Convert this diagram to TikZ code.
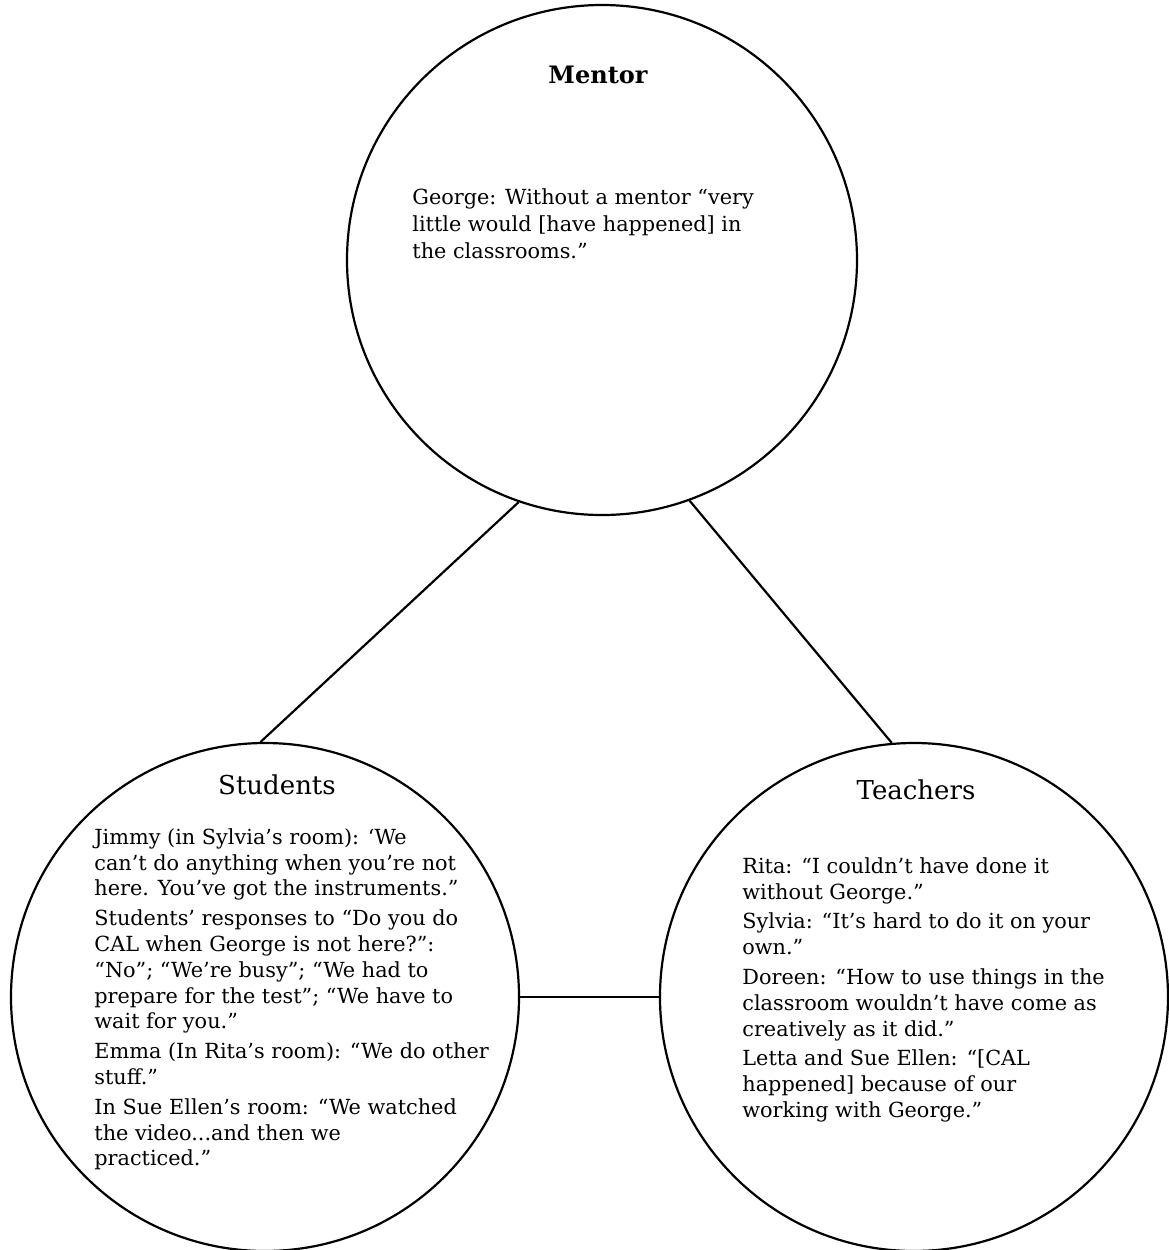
\documentclass[tikz,border=0pt]{standalone}
\usepackage{fontspec}
\setmainfont{DejaVu Serif}

\begin{document}
\begin{tikzpicture}[x=0.5pt, y=-0.5pt,
	kreis/.style={draw, circle, line width=1.1pt, inner sep=0pt, minimum size=#1},
	titel/.style={inner sep=0pt, font=\fontsize{13}{15}\selectfont},
	zitat/.style={anchor=north west, align=left, inner sep=0pt, font=\fontsize{10.4}{12.9}\selectfont},
	linie/.style={line width=1.1pt}]
			%\draw [lightgray](0,0) grid (1169,1250);
			\useasboundingbox (0,0) rectangle (1169,1250);
			
			% Zeichnet die drei Kreise
			\node[kreis=255pt] (mentor) at (602,260) {};
			\node[kreis=254pt] (students) at (265,997) {};
			\node[kreis=254pt] (teachers) at (914,997) {};
			
			% Zeichnet die Verbindungslinien zwischen den Kreisen
			\draw[linie] (mentor.-109) -- (students.91);
			\draw[linie] (mentor.-70) -- (teachers.95);
			\draw[linie] (students.east) -- (teachers.west);
			
			% Schreibt die Ueberschriften
			\node[titel, font=\fontsize{12}{14}\selectfont\bfseries] (mentortitel) at (598,75) {Mentor};
			\node[titel] (studentstitel) at (277,785) {Students};
			\node[titel] (teacherstitel) at (916,790) {Teachers};
			
			% Schreibt die Zitate in den Mentor-Kreis
			\node[zitat, font=\fontsize{10.4}{13.5}\selectfont] (mentortext) at (412,188) {George: Without a mentor “very\\
				little would [have happened] in\\
				the classrooms.”};
			
			% Schreibt die Zitate in den Students-Kreis
			\node[zitat] (studentstext) at (94,828) {Jimmy (in Sylvia’s room): ‘We\\
				can’t do anything when you’re not\\
				here. You’ve got the instruments.”\\[2pt]
				Students’ responses to “Do you do\\
				CAL when George is not here?”:\\
				“No”; “We’re busy”; “We had to\\
				prepare for the test”; “We have to\\
				wait for you.”\\[2pt]
				Emma (In Rita’s room): “We do other\\
				stuff.”\\[2pt]
				In Sue Ellen’s room: “We watched\\
				the video...and then we\\
				practiced.”};
			
			% Schreibt die Zitate in den Teachers-Kreis
			\node[zitat] (teacherstext) at (742,857) {Rita: “I couldn’t have done it\\
				without George.”\\[2pt]
				Sylvia: “It’s hard to do it on your\\
				own.”\\[2pt]
				Doreen: “How to use things in the\\
				classroom wouldn’t have come as\\
				creatively as it did.”\\[2pt]
				Letta and Sue Ellen: “[CAL\\
				happened] because of our\\
				working with George.”};
		\end{tikzpicture}
\end{document}
